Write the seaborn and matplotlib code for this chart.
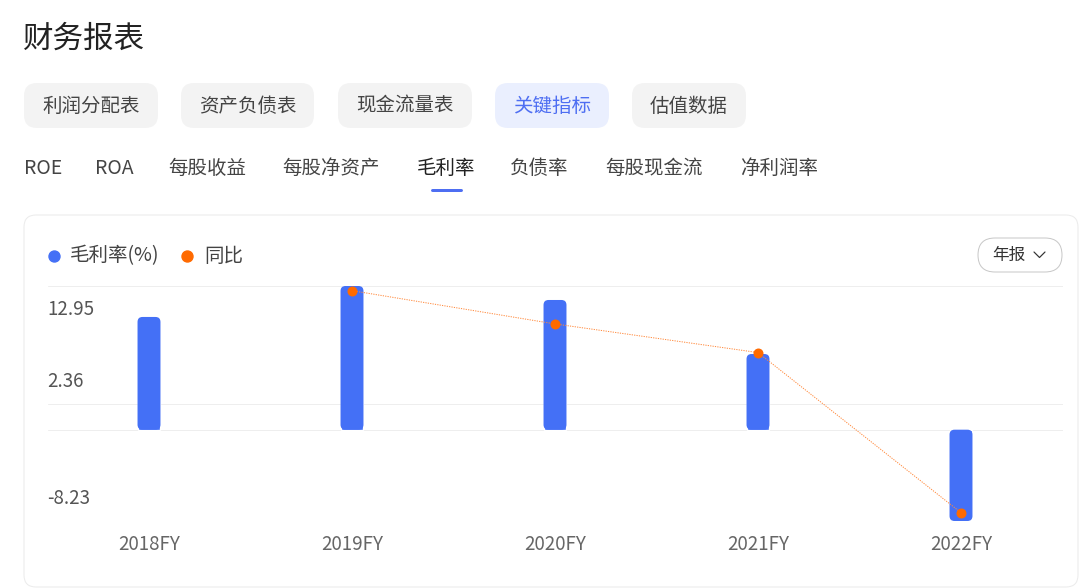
import numpy as np
import pandas as pd
import matplotlib
matplotlib.use("Agg")
import matplotlib.pyplot as plt
import matplotlib.transforms as mtransforms
from matplotlib.patches import FancyBboxPatch
from matplotlib.lines import Line2D
import seaborn as sns

# ---------------- data ----------------
categories = ["2018FY", "2019FY", "2020FY", "2021FY", "2022FY"]
gross_margin = [10.16, 12.95, 11.69, 6.82, -8.23]          # 毛利率(%)
yoy_categories = ["2019FY", "2020FY", "2021FY", "2022FY"]
yoy = [27.5, -9.7, -41.7, -220.7]                          # 同比(%)
ytick_values = [12.95, 2.36, -8.23]
ytick_labels = ["12.95", "2.36", "-8.23"]

title = "财务报表"
report_tabs = ["利润分配表", "资产负债表", "现金流量表", "关键指标", "估值数据"]
active_report_tab = "关键指标"
metric_tabs = ["ROE", "ROA", "每股收益", "每股净资产", "毛利率", "负债率", "每股现金流", "净利润率"]
active_metric_tab = "毛利率"
legend_labels = ["毛利率(%)", "同比"]
period_label = "年报"

# ---------------- style ----------------
sns.set_theme(style="white")
plt.rcParams["font.family"] = ["Noto Sans CJK SC", "DejaVu Sans"]

BLUE = "#4470F6"
ORANGE = "#FF6A00"
ORANGE_LINE = "#FF8A3D"
GRID = "#EEEEEE"
W, H = 1080, 588
PX = 72 / 100  # points per pixel

fig = plt.figure(figsize=(W / 100, H / 100), dpi=100)
fig.patch.set_facecolor("white")

# background overlay in pixel coordinates
bg = fig.add_axes([0, 0, 1, 1], zorder=0)
bg.set_xlim(0, W)
bg.set_ylim(H, 0)
bg.axis("off")

# title
bg.text(23, 39, title, fontsize=22, color="#222222", va="center", ha="left")

# report tabs (buttons)
btn_x = [(24, 158), (181, 314), (338, 472), (495, 609), (632, 746)]
for (x0, x1), lab in zip(btn_x, report_tabs):
    active = lab == active_report_tab
    bg.add_patch(FancyBboxPatch((x0, 83), x1 - x0, 45,
                                boxstyle="round,pad=0,rounding_size=13",
                                facecolor="#EAEFFE" if active else "#F3F3F3",
                                edgecolor="none"))
    bg.text((x0 + x1) / 2, 106, lab, fontsize=14,
            color="#4E6EF2" if active else "#444444", ha="center", va="center")

# metric tabs
metric_x = [24, 95, 168, 282, 417, 510, 605, 740]
for x0, lab in zip(metric_x, metric_tabs):
    active = lab == active_metric_tab
    bg.text(x0, 168, lab, fontsize=14, color="#222222" if active else "#444444",
            ha="left", va="center")
bg.add_line(Line2D([432, 461], [190, 190], color="#4E6EF2", lw=3 * PX,
                   solid_capstyle="round"))

# chart card
bg.add_patch(FancyBboxPatch((24, 215), 1054, 372,
                            boxstyle="round,pad=0,rounding_size=12",
                            facecolor="white", edgecolor="#EBEBEB", lw=1 * PX))

# legend
bg.add_line(Line2D([54], [256], marker="o", markersize=11 * PX, color=BLUE, lw=0))
bg.text(70, 256, legend_labels[0], fontsize=14, color="#444444", va="center", ha="left")
bg.add_line(Line2D([187], [256], marker="o", markersize=11 * PX, color=ORANGE, lw=0))
bg.text(204, 256, legend_labels[1], fontsize=14, color="#444444", va="center", ha="left")

# period pill
bg.add_patch(FancyBboxPatch((978, 238), 84, 34,
                            boxstyle="round,pad=0,rounding_size=17",
                            facecolor="white", edgecolor="#C8C8C8", lw=1 * PX))
bg.text(992, 255, period_label, fontsize=12, color="#333333", va="center", ha="left")
bg.add_line(Line2D([1034, 1039.5, 1045], [252, 257.5, 252], color="#333333",
                   lw=1.2 * PX))

# ---------------- chart ----------------
left, right, top, bottom = 47.5, 1062.5, 286, 521
ax = fig.add_axes([left / W, 1 - bottom / H, (right - left) / W, (bottom - top) / H], zorder=2)
ax.patch.set_alpha(0)

df = pd.DataFrame({"period": categories, "gross_margin": gross_margin})
sns.barplot(data=df, x="period", y="gross_margin", order=categories, color=BLUE,
            saturation=1, width=0.113, ax=ax, zorder=3)
ax.set_xlim(-0.5, len(categories) - 0.5)
ax.set_ylim(min(ytick_values), max(ytick_values))

# gridlines
ax.set_yticks(ytick_values + [0])
ax.yaxis.grid(True, color=GRID, lw=1 * PX)
ax.set_axisbelow(True)
ax.set_xlabel("")
ax.set_ylabel("")
for s in ax.spines.values():
    s.set_visible(False)

# y labels (offset from their gridlines like the original)
ymax = max(ytick_values)
for v, lab in zip(ytick_values, ytick_labels):
    dy = -23.5 if v == ymax else 22
    tr = mtransforms.blended_transform_factory(ax.transAxes, ax.transData) + \
        mtransforms.ScaledTranslation(0, dy / 100, fig.dpi_scale_trans)
    ax.text(0, v, lab, transform=tr, fontsize=13.5, color="#555555",
            ha="left", va="center")

# round the bar tips
px_x = ax.transData.transform((1, 0))[0] - ax.transData.transform((0, 0))[0]
px_y = ax.transData.transform((0, 1))[1] - ax.transData.transform((0, 0))[1]
r_px = 5
rx, ry = r_px / px_x, r_px / px_y
for p in list(ax.patches):
    x, y, w, h = p.get_x(), p.get_y(), p.get_width(), p.get_height()
    y0, y1 = min(y, y + h), max(y, y + h)
    if h >= 0:
        p.set_height(max(h - ry, 0))
    else:
        p.set_y(0)
        p.set_height(min(h + ry, 0))
    ax.add_patch(FancyBboxPatch((x, y0), w, y1 - y0,
                                boxstyle=f"round,pad=0,rounding_size={rx}",
                                mutation_aspect=ry / rx, facecolor=BLUE,
                                edgecolor="none", zorder=3))

# YoY line on hidden secondary axis
ax2 = ax.twinx()
ax2.set_zorder(3)
ax2.patch.set_alpha(0)
yoy_x = [categories.index(c) for c in yoy_categories]
sns.lineplot(x=yoy_x, y=yoy, ax=ax2, color=ORANGE_LINE, lw=1 * PX,
             linestyle=(0, (1.2, 1.2)), marker="o", markersize=10 * PX,
             markerfacecolor=ORANGE, markeredgewidth=0, zorder=4)
ax2.set_xlim(-0.5, len(categories) - 0.5)
ax2.set_ylim(-230.0, 32.7)
ax2.axis("off")

# tick styling (after twinx, which re-enables left ticks)
ax.tick_params(axis="y", left=False, right=False, labelleft=False, labelright=False)
ax.tick_params(axis="x", length=0, pad=9, labelsize=13.5, labelcolor="#666666")

fig.savefig("out.png", dpi=100, facecolor="white")
